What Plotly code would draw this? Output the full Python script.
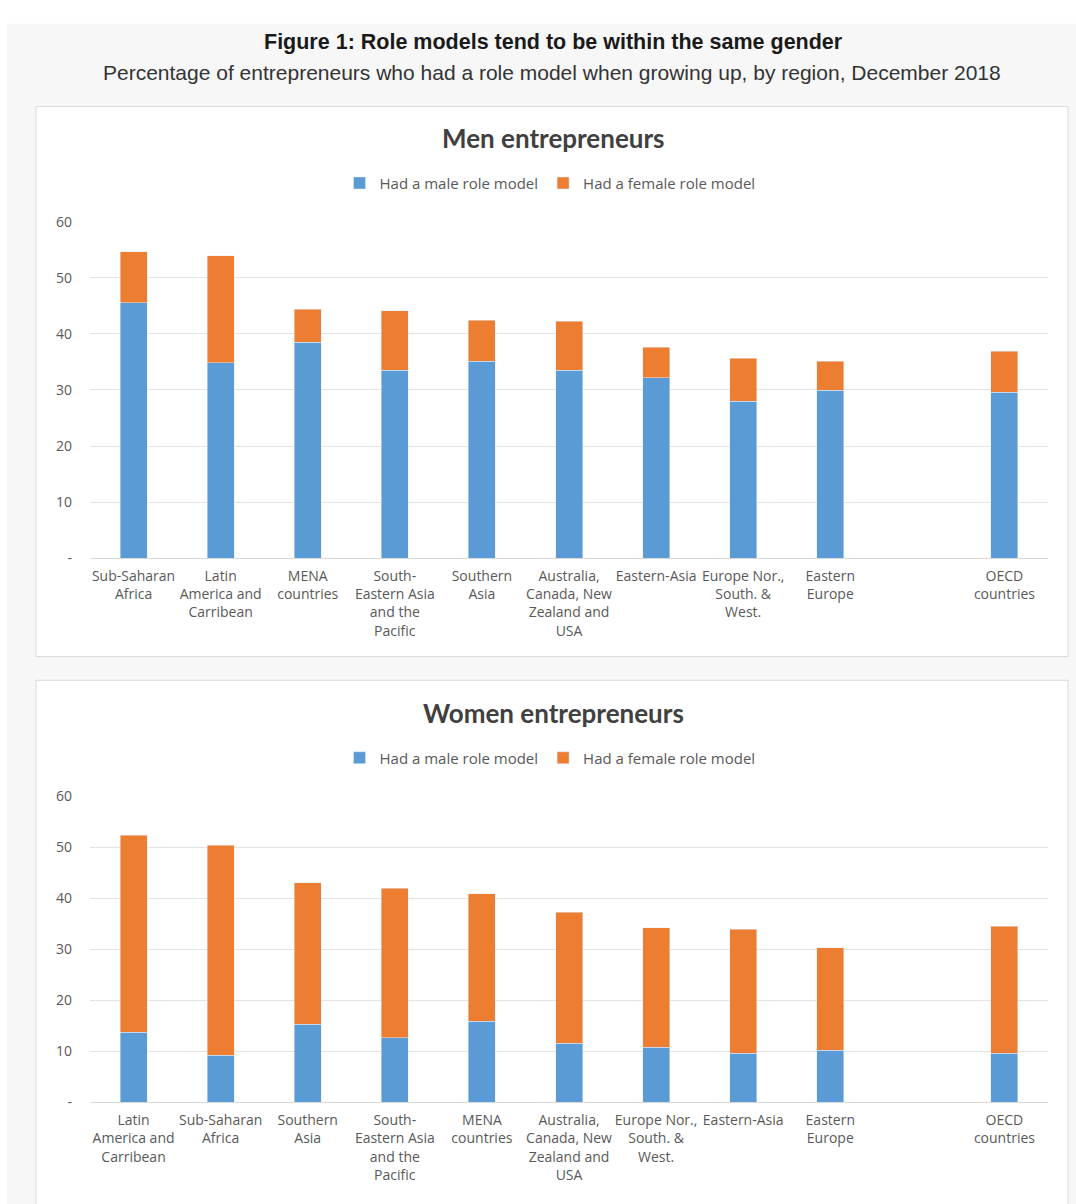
import plotly.graph_objects as go

W, H = 1076, 1204

# ---------------- data ----------------
men_regions = ["Sub-Saharan<br>Africa", "Latin<br>America and<br>Carribean", "MENA<br>countries",
               "South-<br>Eastern Asia<br>and the<br>Pacific", "Southern<br>Asia",
               "Australia,<br>Canada, New<br>Zealand and<br>USA", "Eastern-Asia",
               "Europe Nor.,<br>South. &<br>West.", "Eastern<br>Europe", " ", "OECD<br>countries"]
men_male =   [45.5, 34.8, 38.5, 33.5, 35.1, 33.5, 32.2, 28.0, 29.9, None, 29.6]
men_female = [9.1, 19.1, 5.9, 10.6, 7.3, 8.7, 5.4, 7.6, 5.2, None, 7.3]

women_regions = ["Latin<br>America and<br>Carribean", "Sub-Saharan<br>Africa", "Southern<br>Asia",
                 "South-<br>Eastern Asia<br>and the<br>Pacific", "MENA<br>countries",
                 "Australia,<br>Canada, New<br>Zealand and<br>USA", "Europe Nor.,<br>South. &<br>West.",
                 "Eastern-Asia", "Eastern<br>Europe", " ", "OECD<br>countries"]
women_male =   [13.8, 9.3, 15.3, 12.7, 15.9, 11.6, 10.8, 9.7, 10.2, None, 9.7]
women_female = [38.6, 41.1, 27.8, 29.3, 25.0, 25.7, 23.5, 24.3, 20.1, None, 24.8]

y_ticks = [0, 10, 20, 30, 40, 50, 60]
y_ticktext = ["-", "10", "20", "30", "40", "50", "60"]

series_names = ["Had a male role model", "Had a female role model"]
BLUE, ORANGE = "#5b9bd5", "#ed7d31"


def px_x(x):
    return x / W


def px_y(y):
    return 1 - y / H


fig = go.Figure()

fig.add_trace(go.Bar(x=men_regions, y=men_male, name=series_names[0], marker_color=BLUE,
                     width=0.31, xaxis="x", yaxis="y", legend="legend"))
fig.add_trace(go.Bar(x=men_regions, y=men_female, name=series_names[1], marker_color=ORANGE,
                     width=0.31, xaxis="x", yaxis="y", legend="legend"))
fig.add_trace(go.Bar(x=women_regions, y=women_male, name=series_names[0], marker_color=BLUE,
                     width=0.31, xaxis="x2", yaxis="y2", legend="legend2"))
fig.add_trace(go.Bar(x=women_regions, y=women_female, name=series_names[1], marker_color=ORANGE,
                     width=0.31, xaxis="x2", yaxis="y2", legend="legend2"))

FONT = "Open Sans, Lato, sans-serif"
tickfont = dict(family=FONT, size=14, color="#595959")

xcommon = dict(type="category", showgrid=False, showline=True, linecolor="#d9d9d9", linewidth=1,
               ticks="", tickfont=tickfont, tickangle=0, fixedrange=True, ticklabelstandoff=5)
ycommon = dict(range=[0, 60], tickvals=y_ticks, ticktext=y_ticktext, showgrid=True,
               gridcolor="#e3e3e3", gridwidth=1, zeroline=False, showline=False,
               tickfont=tickfont, ticks="", ticklabelstandoff=17, fixedrange=True)

legfont = dict(family=FONT, size=15, color="#595959")

fig.update_layout(
    width=W, height=H,
    margin=dict(l=0, r=0, t=0, b=0),
    paper_bgcolor="white", plot_bgcolor="rgba(0,0,0,0)",
    barmode="stack",
    font=dict(family=FONT, color="#595959"),
    xaxis=dict(**xcommon, domain=[px_x(90), px_x(1048)], anchor="y",
               categoryorder="array", categoryarray=men_regions),
    yaxis=dict(**ycommon, domain=[px_y(557), px_y(215)], anchor="x"),
    xaxis2=dict(**xcommon, domain=[px_x(90), px_x(1048)], anchor="y2",
                categoryorder="array", categoryarray=women_regions),
    yaxis2=dict(**ycommon, domain=[px_y(1110), px_y(799)], anchor="x2"),
    legend=dict(orientation="h", x=px_x(550), xanchor="center", y=px_y(176), yanchor="middle",
                font=legfont, bgcolor="rgba(0,0,0,0)", itemwidth=30, traceorder="normal"),
    legend2=dict(orientation="h", x=px_x(550), xanchor="center", y=px_y(760), yanchor="middle",
                 font=legfont, bgcolor="rgba(0,0,0,0)", itemwidth=30, traceorder="normal"),
    showlegend=True,
)

# background panels
fig.add_shape(type="rect", xref="paper", yref="paper", x0=px_x(7), x1=1.01, y0=-0.01, y1=px_y(14),
              fillcolor="#f7f7f7", line=dict(width=0), layer="below")
fig.add_shape(type="rect", xref="paper", yref="paper", x0=px_x(36), x1=px_x(1068),
              y0=px_y(657), y1=px_y(98), fillcolor="white",
              line=dict(color="#d9d9d9", width=1), layer="below")
fig.add_shape(type="rect", xref="paper", yref="paper", x0=px_x(36), x1=px_x(1068),
              y0=px_y(1215), y1=px_y(681), fillcolor="white",
              line=dict(color="#d9d9d9", width=1), layer="below")

# titles
fig.add_annotation(text="<b>Figure 1: Role models tend to be within the same gender</b>",
                   xref="paper", yref="paper", x=px_x(553), y=px_y(33), showarrow=False,
                   xanchor="center", yanchor="middle",
                   font=dict(family="Liberation Sans, Arial, sans-serif", size=21.5, color="#1a1a1a"))
fig.add_annotation(text="Percentage of entrepreneurs who had a role model when growing up, by region, December 2018",
                   xref="paper", yref="paper", x=px_x(552), y=px_y(63), showarrow=False,
                   xanchor="center", yanchor="middle",
                   font=dict(family="Liberation Sans, Arial, sans-serif", size=21, color="#333333"))
fig.add_annotation(text="<b>Men entrepreneurs</b>", xref="paper", yref="paper",
                   x=px_x(553), y=px_y(130), showarrow=False, xanchor="center", yanchor="middle",
                   font=dict(family="Lato, Open Sans, sans-serif", size=26, color="#404040"))
fig.add_annotation(text="<b>Women entrepreneurs</b>", xref="paper", yref="paper",
                   x=px_x(553), y=px_y(714), showarrow=False, xanchor="center", yanchor="middle",
                   font=dict(family="Lato, Open Sans, sans-serif", size=26, color="#404040"))

fig.write_html("out.html",
               config={"displayModeBar": False},
               post_script="document.body.style.margin='0';document.body.style.overflow='hidden';")
